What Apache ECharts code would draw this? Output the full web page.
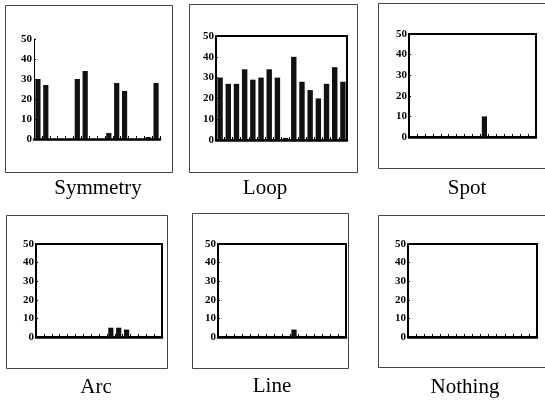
<!DOCTYPE html>
<html>
<head>
<meta charset="utf-8">
<script src="https://cdn.jsdelivr.net/npm/echarts@6/dist/echarts.min.js"></script>
<style>
html,body{margin:0;padding:0;background:#fff;}
#c{width:545px;height:403px;}
</style>
</head>
<body>
<div id="c"></div>
<script>
// ---- data ----
const categories = ['1','2','3','4','5','6','7','8','9','10','11','12','13','14','15','16'];
const yTickLabels = ['0','10','20','30','40','50'];
const panelTitles = ['Symmetry','Loop','Spot','Arc','Line','Nothing'];
const symmetryValues = [30,27,0,0,0,30,34,0,0,3,28,24,0,0,1,28];
const loopValues     = [30,27,27,34,29,30,34,30,1,40,28,24,20,27,35,28];
const spotValues     = [0,0,0,0,0,0,0,0,0,10,0,0,0,0,0,0];
const arcValues      = [0,0,0,0,0,0,0,0,0,5,5,4,0,0,0,0];
const lineValues     = [0,0,0,0,0,0,0,0,0,4,0,0,0,0,0,0];
const nothingValues  = [0,0,0,0,0,0,0,0,0,0,0,0,0,0,0,0];
const seriesValues = [symmetryValues, loopValues, spotValues, arcValues, lineValues, nothingValues];

// ---- layout ----
const grids = [
  {left:34,  top:39,  width:126, height:100, frame:false},
  {left:216, top:36,  width:131, height:104, frame:true},
  {left:409, top:34,  width:127, height:103, frame:true},
  {left:36,  top:244, width:126, height:93,  frame:true},
  {left:218, top:244, width:128, height:93,  frame:true},
  {left:408, top:244, width:129, height:93,  frame:true}
];
const boxes = [
  {x:5,   y:5,   w:167, h:167},
  {x:189, y:4,   w:168, h:168},
  {x:378, y:3,   w:170, h:165},
  {x:6,   y:215, w:161, h:153},
  {x:192, y:213, w:156, h:155},
  {x:378, y:215, w:170, h:152}
];
const titlePos = [
  {x:98,  y:188},
  {x:265, y:188},
  {x:467, y:188},
  {x:96,  y:387},
  {x:272, y:386},
  {x:465, y:387}
];

const chart = echarts.init(document.getElementById('c'), null, {renderer:'canvas'});

const option = {
  backgroundColor:'#fff',
  animation:false,
  grid: grids.map(g => ({
    left:g.left, top:g.top, width:g.width, height:g.height,
    show:g.frame, borderColor:'#000', borderWidth:2, backgroundColor:'transparent',
    containLabel:false
  })),
  xAxis: grids.map((g,i) => ({
    type:'category', gridIndex:i, data:categories,
    boundaryGap:true,
    axisLine:{show:true, lineStyle:{color:'#000', width:2.5}},
    axisTick:{show:true, inside:true, interval:0, length:3, lineStyle:{color:'#000', width:1}},
    axisLabel:{show:false, interval:0},
    splitLine:{show:false}
  })),
  yAxis: grids.map((g,i) => ({
    type:'value', gridIndex:i, min:0, max:50, interval:10,
    axisLine:{show:true, lineStyle:{color:'#000', width:g.frame?2:1}},
    axisTick:{show:true, inside:true, length:2, lineStyle:{color:'#000'}},
    axisLabel:{
      show:true, margin:2, color:'#000',
      fontFamily:'Liberation Serif', fontSize:11, fontWeight:'bold',
      formatter:(v)=> yTickLabels[Math.round(v/10)]
    },
    splitLine:{show:false}
  })),
  series: seriesValues.map((vals,i) => ({
    type:'bar', xAxisIndex:i, yAxisIndex:i, data:vals,
    barWidth:'66%',
    itemStyle:{color:'#111'},
    silent:true
  })),
  graphic: [
    ...boxes.map(b => ({
      type:'rect', shape:{x:b.x+0.5, y:b.y+0.5, width:b.w, height:b.h},
      style:{fill:'none', stroke:'#444', lineWidth:1}, silent:true, z:-1
    })),
    ...panelTitles.map((t,i) => ({
      type:'text', x:titlePos[i].x, y:titlePos[i].y,
      style:{text:t, fill:'#000', font:'21px "Liberation Serif"', textAlign:'center', textVerticalAlign:'middle'},
      silent:true
    }))
  ]
};
chart.setOption(option);
</script>
</body>
</html>
